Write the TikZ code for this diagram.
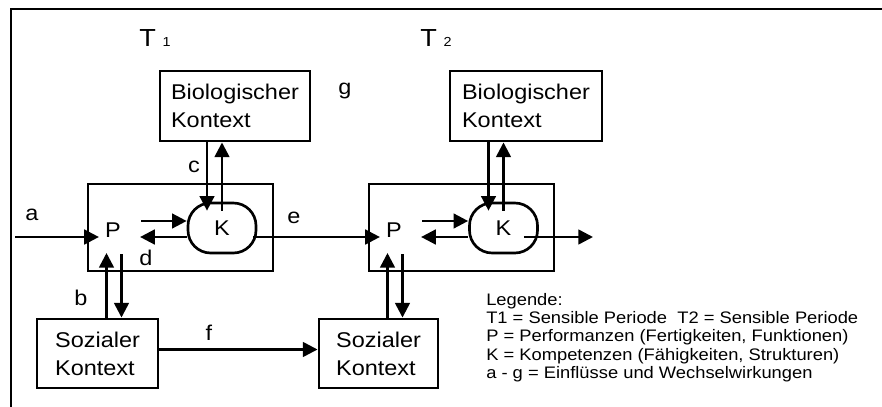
\documentclass[tikz,border=0pt]{standalone}
\usepackage{fontspec}
\setmainfont{Liberation Sans}[FakeStretch=1.1]
\usetikzlibrary{arrows.meta,calc}
\tikzset{
  ctxbox/.style={draw,line width=2.2pt,align=left,inner sep=0pt,
    minimum height=52.5pt,font=\fontsize{16}{21}\selectfont},
  perbox/.style={draw,line width=2.2pt,minimum width=138.75pt,minimum height=65.25pt},
  blob/.style={draw,line width=2pt,rounded corners=17pt,minimum width=51pt,
    minimum height=37.5pt,inner sep=0pt,font=\fontsize{16}{19}\selectfont},
  lbl/.style={inner sep=0pt,anchor=base,font=\fontsize{16}{19}\selectfont},
  tlbl/.style={inner sep=0pt,anchor=base west,font=\fontsize{18.5}{22}\selectfont},
  arr/.style={line width=1.9pt,-{Triangle[length=11pt,width=11pt]}},
}
\begin{document}
\begin{tikzpicture}[x=0.75pt,y=-0.75pt]
  \useasboundingbox (0,0) rectangle (882,407);
  % Frame
  \draw[line width=2.2pt] (882,9) -- (11,9) -- (11,407);
  % Time points
  \node[tlbl] (t1) at (139,46.7) {T\hspace{5pt}{\fontsize{9.8}{12}\selectfont 1}};
  \node[tlbl] (t2) at (420,46.7) {T\hspace{5pt}{\fontsize{9.8}{12}\selectfont 2}};
  % Contexts
  \node[ctxbox,minimum width=112.5pt] (bio1) at (235,106) {Biologischer\\Kontext};
  \node[ctxbox,minimum width=114pt] (bio2) at (526,106) {Biologischer\\Kontext};
  \node[ctxbox,minimum width=90.75pt,minimum height=51.75pt] (soz1) at (97.5,353.5) {Sozialer\\Kontext};
  \node[ctxbox,minimum width=89.25pt,minimum height=51.75pt] (soz2) at (378.5,353.5) {Sozialer\\Kontext};
  % Periods with P and K
  \node[perbox] (per1) at (180.5,227.5) {};
  \node[perbox] (per2) at (461.5,227.5) {};
  \node[lbl] (p1) at (113,237) {P};
  \node[lbl] (p2) at (394,237) {P};
  \node[blob] (k1) at (222,228) {K};
  \node[blob] (k2) at (503.5,228) {K};
  \coordinate (ain) at (15,237);
  \coordinate (kout) at (593,237);
  % Arrows inside the periods
  \draw[arr] (ain) -- ($(p1.base west)+(-6,0)$);
  \draw[arr] ($(p1.base east)+(20,-16)$) -- ($(k1.west)+(0,-7)$);
  \draw[arr] ($(k1.west)+(0,9)$) -- ($(p1.base east)+(19,0)$);
  \draw[arr] ($(k1.east)+(-4,9)$) -- ($(p2.base west)+(-6,0)$);
  \draw[arr] ($(p2.base east)+(20,-16)$) -- ($(k2.west)+(0,-7)$);
  \draw[arr] ($(k2.west)+(0,9)$) -- ($(p2.base east)+(19,0)$);
  \draw[arr] ($(k2.east)+(-15,9)$) -- (kout);
  % Biological context
  \draw[arr] ($(bio1.south)+(-28,0)$) -- ($(k1.north)+(-15,9)$);
  \draw[arr] ($(k1.north)+(0,9)$) -- ($(bio1.south)+(-13,0)$);
  \draw[arr] ($(bio2.south)+(-37.5,0)$) -- ($(k2.north)+(-15,9)$);
  \draw[arr] ($(k2.north)+(0,9)$) -- ($(bio2.south)+(-22.5,0)$);
  % Social context
  \draw[arr] ($(soz1.north)+(9,0)$) -- ($(p1.base)+(-6.5,16)$);
  \draw[arr] ($(p1.base)+(8.5,17)$) -- ($(soz1.north)+(24,0)$);
  \draw[arr] ($(soz2.north)+(9,0)$) -- ($(p2.base)+(-6.5,16)$);
  \draw[arr] ($(p2.base)+(8.5,17)$) -- ($(soz2.north)+(24,0)$);
  \draw[arr] ($(soz1.east)+(0,-4)$) -- ($(soz2.west)+(0,-4)$);
  % Letters
  \node[lbl] (la) at (32,220) {a};
  \node[lbl] (lb) at (81,305) {b};
  \node[lbl] (lc) at (194,172) {c};
  \node[lbl] (ld) at (146,265) {d};
  \node[lbl] (le) at (294,223) {e};
  \node[lbl] (lf) at (209,340) {f};
  \node[lbl] (lg) at (345,94) {g};
  % Legend
  \node[anchor=north west,inner sep=0pt,align=left,font=\fontsize{12.5}{13.7}\selectfont] (leg) at (486,293)
    {Legende:\\T1 = Sensible Periode\ \ T2 = Sensible Periode\\P = Performanzen (Fertigkeiten, Funktionen)\\K = Kompetenzen (Fähigkeiten, Strukturen)\\a - g = Einflüsse und Wechselwirkungen};
\end{tikzpicture}
\end{document}
